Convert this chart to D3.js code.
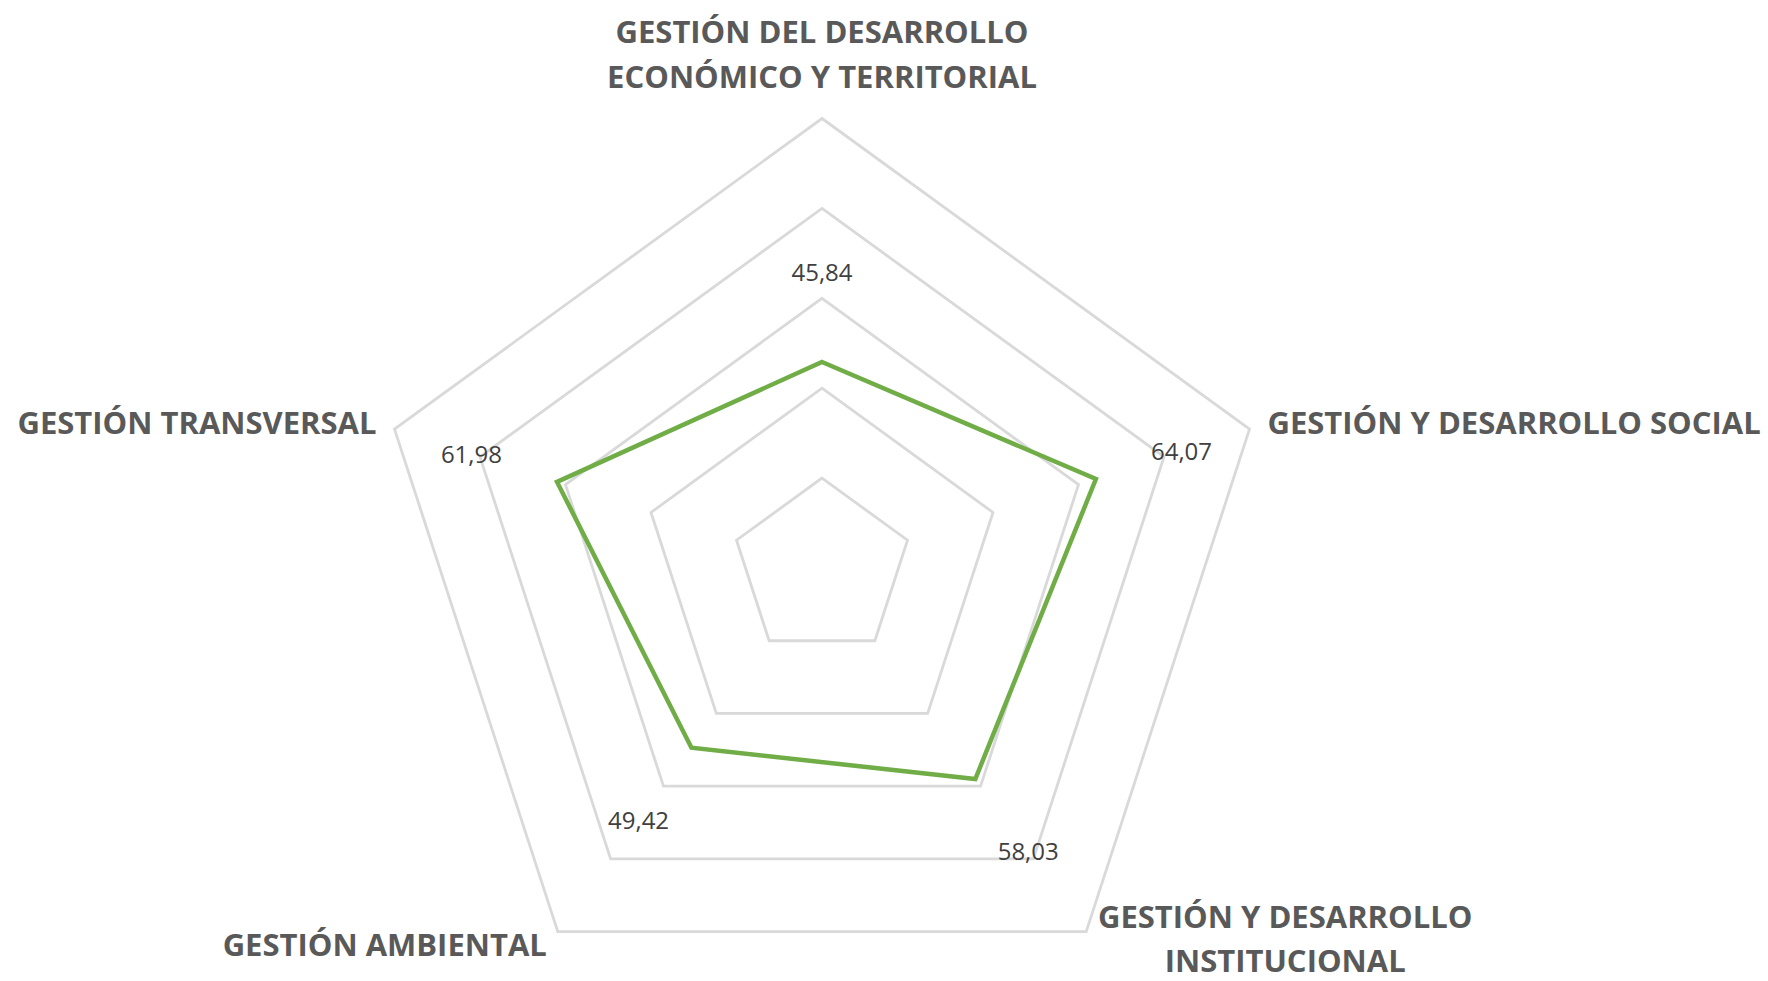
<!DOCTYPE html>
<html>
<head>
<meta charset="utf-8">
<script src="https://cdn.jsdelivr.net/npm/d3@7"></script>
<style>
  html, body { margin: 0; padding: 0; background: #ffffff; }
  svg { display: block; }
</style>
</head>
<body>
<svg id="chart" width="1768" height="981"></svg>
<script>
// ---- data ----
const categories = [
  ["GESTIÓN DEL DESARROLLO", "ECONÓMICO Y TERRITORIAL"],
  ["GESTIÓN Y DESARROLLO SOCIAL"],
  ["GESTIÓN Y DESARROLLO", "INSTITUCIONAL"],
  ["GESTIÓN AMBIENTAL"],
  ["GESTIÓN TRANSVERSAL"]
];
const values = [45.84, 64.07, 58.03, 49.42, 61.98];
const valueLabels = ["45,84", "64,07", "58,03", "49,42", "61,98"];
const gridTicks = [20, 40, 60, 80, 100];

// ---- layout ----
const W = 1768, H = 981;
const cx = 822, cy = 568, R = 449.5;
const svg = d3.select("#chart");
const g = svg.append("g").attr("transform", `translate(${cx},${cy})`);

const r = d3.scaleLinear().domain([0, 100]).range([0, R]);
const angle = d3.scaleLinear().domain([0, categories.length]).range([0, 2 * Math.PI]);

const pt = (i, v) => {
  const a = angle(i);
  return [Math.sin(a) * r(v), -Math.cos(a) * r(v)];
};

const radial = d3.lineRadial()
  .angle((d, i) => angle(i))
  .curve(d3.curveLinearClosed);

// grid rings
g.selectAll("path.grid")
  .data(gridTicks)
  .join("path")
  .attr("class", "grid")
  .attr("d", t => radial.radius(() => r(t))(categories.map(() => t)))
  .attr("fill", "none")
  .attr("stroke", "#d9d9d9")
  .attr("stroke-width", 2.8)
  .attr("stroke-linejoin", "miter");

// data series
g.append("path")
  .datum(values)
  .attr("d", radial.radius(d => r(d)))
  .attr("fill", "none")
  .attr("stroke", "#70ad47")
  .attr("stroke-width", 4.5)
  .attr("stroke-linejoin", "miter");

// value labels (offset outward along axis)
const labelOffset = 90;
g.selectAll("text.val")
  .data(values)
  .join("text")
  .attr("class", "val")
  .attr("x", (d, i) => { const a = angle(i); return Math.sin(a) * (r(d) + labelOffset); })
  .attr("y", (d, i) => { const a = angle(i); return -Math.cos(a) * (r(d) + labelOffset); })
  .attr("dy", "0.36em")
  .attr("text-anchor", "middle")
  .attr("font-family", "'Open Sans', sans-serif")
  .attr("font-size", 24)
  .attr("fill", "#404040")
  .text((d, i) => valueLabels[i]);

// category labels
const catLayout = [
  { anchor: "middle", dx: 0, dy: -31, gap: 45, fromBottom: true },
  { anchor: "start", dx: 18, dy: 5, gap: 45 },
  { anchor: "middle", dx: 199, dy: -3.5, gap: 44 },
  { anchor: "end", dx: -11, dy: 24, gap: 45 },
  { anchor: "end", dx: -18, dy: 5, gap: 45 }
];
categories.forEach((lines, i) => {
  const [px, py] = pt(i, 100);
  const L = catLayout[i];
  const t = g.append("text")
    .attr("text-anchor", L.anchor)
    .attr("font-family", "'Open Sans', sans-serif")
    .attr("font-weight", 700)
    .attr("font-size", 31)
    .attr("fill", "#595959");
  lines.forEach((line, j) => {
    const off = L.fromBottom ? -(lines.length - 1 - j) * L.gap : j * L.gap;
    t.append("tspan")
      .attr("x", px + L.dx)
      .attr("y", py + L.dy + off)
      .text(line);
  });
});
</script>
</body>
</html>
